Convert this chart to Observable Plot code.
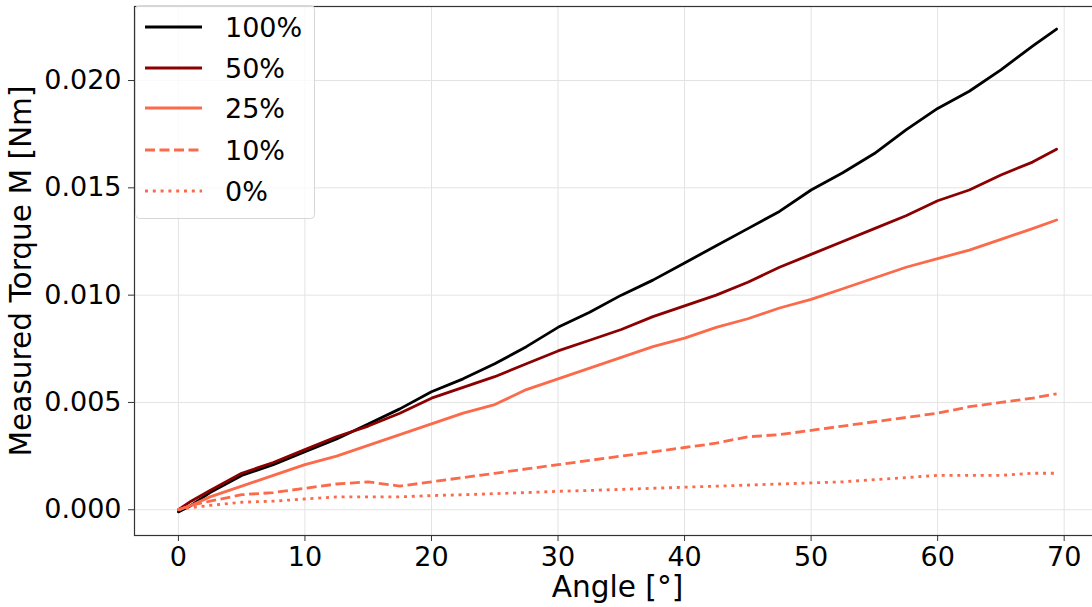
<!DOCTYPE html>
<html><head><meta charset="utf-8">
<script src="https://cdn.jsdelivr.net/npm/d3@7"></script>
<script src="https://cdn.jsdelivr.net/npm/@observablehq/plot@0.6"></script>
<style>
html,body{margin:0;padding:0;background:#fff;overflow:hidden;}
#wrap{position:relative;width:1092px;height:607px;overflow:hidden;font-family:"DejaVu Sans",sans-serif;}
#legend{position:absolute;left:135px;top:5px;}
</style></head><body><div id="wrap"></div>
<script>
// ---- data ----
const angles    = [0, 1, 2.5, 5, 7.5, 10, 12.5, 15, 17.5, 20, 22.5, 25, 27.5, 30, 32.5, 35, 37.5, 40, 42.5, 45, 47.5, 50, 52.5, 55, 57.5, 60, 62.5, 65, 67.5, 69.4];
const torque100 = [-0.0001, 0.0002, 0.0008, 0.0016, 0.0021, 0.0027, 0.0033, 0.0040, 0.0047, 0.0055, 0.0061, 0.0068, 0.0076, 0.0085, 0.0092, 0.0100, 0.0107, 0.0115, 0.0123, 0.0131, 0.0139, 0.0149, 0.0157, 0.0166, 0.0177, 0.0187, 0.0195, 0.0205, 0.0216, 0.0224];
const torque50  = [0, 0.0004, 0.0009, 0.0017, 0.0022, 0.0028, 0.0034, 0.0039, 0.0045, 0.0052, 0.0057, 0.0062, 0.0068, 0.0074, 0.0079, 0.0084, 0.0090, 0.0095, 0.0100, 0.0106, 0.0113, 0.0119, 0.0125, 0.0131, 0.0137, 0.0144, 0.0149, 0.0156, 0.0162, 0.0168];
const torque25  = [0, 0.0002, 0.0006, 0.0011, 0.0016, 0.0021, 0.0025, 0.0030, 0.0035, 0.0040, 0.0045, 0.0049, 0.0056, 0.0061, 0.0066, 0.0071, 0.0076, 0.0080, 0.0085, 0.0089, 0.0094, 0.0098, 0.0103, 0.0108, 0.0113, 0.0117, 0.0121, 0.0126, 0.0131, 0.0135];
const torque10  = [0, 0.0002, 0.0004, 0.0007, 0.0008, 0.0010, 0.0012, 0.0013, 0.0011, 0.0013, 0.0015, 0.0017, 0.0019, 0.0021, 0.0023, 0.0025, 0.0027, 0.0029, 0.0031, 0.0034, 0.0035, 0.0037, 0.0039, 0.0041, 0.0043, 0.0045, 0.0048, 0.0050, 0.0052, 0.0054];
const torque0   = [0, 0.0001, 0.0002, 0.00035, 0.0004, 0.0005, 0.0006, 0.0006, 0.0006, 0.00066, 0.0007, 0.00075, 0.0008, 0.00086, 0.0009, 0.00095, 0.0010, 0.00105, 0.0011, 0.00115, 0.0012, 0.00125, 0.0013, 0.0014, 0.0015, 0.0016, 0.0016, 0.0016, 0.0017, 0.0017];
const seriesLabels = ["100%", "50%", "25%", "10%", "0%"];
const xTicks = [0, 10, 20, 30, 40, 50, 60, 70];
const yTicks = [0, 0.005, 0.010, 0.015, 0.020];
const xLabel = "Angle [°]";
const yLabel = "Measured Torque M [Nm]";

// ---- styles ----
const seriesColors = ["#000000", "#8b0000", "#fb6a4a", "#fb6a4a", "#fb6a4a"];
const seriesDash = [null, null, null, "10,4.5", "3,4.8"];
const LW = 2.8;

const allSeries = [torque100, torque50, torque25, torque10, torque0];
const rows = [];
allSeries.forEach((vals, s) => vals.forEach((v, i) => rows.push({angle: angles[i], torque: v, series: seriesLabels[s]})));

const lineMarks = seriesLabels.map((lab, s) =>
  Plot.line(rows.filter(d => d.series === lab), {
    x: "angle", y: "torque", stroke: seriesColors[s], strokeWidth: LW,
    strokeDasharray: seriesDash[s] || undefined, strokeLinejoin: "round", strokeLinecap: seriesDash[s] ? "butt" : "round"
  })
);

const chart = Plot.plot({
  width: 1100, height: 607,
  marginLeft: 134, marginRight: 0, marginTop: 6, marginBottom: 72,
  style: {fontFamily: "DejaVu Sans, sans-serif", fontSize: "27px", maxWidth: "none", color: "#000", background: "#fff"},
  x: {domain: [-3.47, 72.87], ticks: xTicks},
  y: {domain: [-0.0012, 0.02345], ticks: yTicks},
  marks: [
    Plot.gridX(xTicks, {stroke: "#e3e3e3", strokeOpacity: 1, strokeWidth: 1}),
    Plot.gridY(yTicks, {stroke: "#e3e3e3", strokeOpacity: 1, strokeWidth: 1}),
    Plot.axisX(xTicks, {tickSize: 6, tickPadding: 5, label: null, stroke: "#333", fill: "#000"}),
    Plot.axisY(yTicks, {tickSize: 6, tickPadding: 7, label: null, tickFormat: d3.format(".3f"), stroke: "#333", fill: "#000"}),
    ...lineMarks,
    Plot.frame({stroke: "#333", strokeWidth: 1.2}),
    Plot.text([xLabel], {frameAnchor: "bottom", dy: 52.5, lineAnchor: "middle", textAnchor: "middle", fontSize: 29.6, fill: "#000"}),
    Plot.text([yLabel], {frameAnchor: "left", dx: -113, rotate: -90, lineAnchor: "middle", textAnchor: "middle", fontSize: 29.6, fill: "#000"})
  ]
});
document.getElementById("wrap").appendChild(chart);

// ---- legend (overlay, upper-left inside the axes) ----
const lg = d3.select("#wrap").append("svg").attr("id", "legend")
  .attr("width", 182).attr("height", 216);
lg.append("rect").attr("x", 0.5).attr("y", 0.5).attr("width", 179).attr("height", 213)
  .attr("rx", 4).attr("fill", "rgba(255,255,255,0.8)").attr("stroke", "#d6d6d6");
const rowY = [22, 63, 103, 145, 186];
seriesLabels.forEach((lab, s) => {
  lg.append("line").attr("x1", 10).attr("x2", 67).attr("y1", rowY[s]).attr("y2", rowY[s])
    .attr("stroke", seriesColors[s]).attr("stroke-width", LW)
    .attr("stroke-dasharray", seriesDash[s]);
  lg.append("text").attr("x", 90).attr("y", rowY[s]).attr("dy", "0.36em")
    .attr("font-family", "DejaVu Sans, sans-serif").attr("font-size", 27).attr("fill", "#000").text(lab);
});
</script>
</body></html>
